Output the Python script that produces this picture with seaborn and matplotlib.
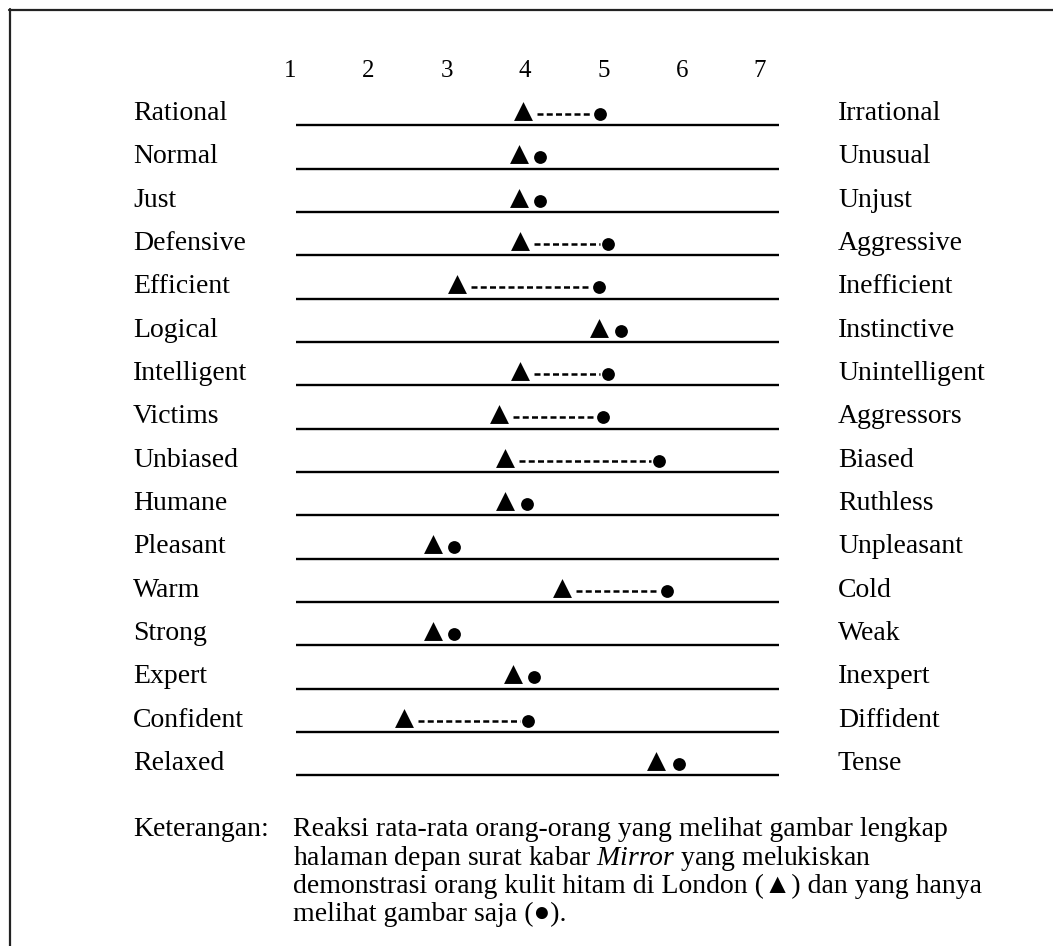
import numpy as np
import pandas as pd
import matplotlib
matplotlib.use("Agg")
import matplotlib.pyplot as plt
import seaborn as sns
from matplotlib.lines import Line2D

# ---------------- data ----------------
left_labels = ["Rational", "Normal", "Just", "Defensive", "Efficient", "Logical",
               "Intelligent", "Victims", "Unbiased", "Humane", "Pleasant", "Warm",
               "Strong", "Expert", "Confident", "Relaxed"]
right_labels = ["Irrational", "Unusual", "Unjust", "Aggressive", "Inefficient",
                "Instinctive", "Unintelligent", "Aggressors", "Biased", "Ruthless",
                "Unpleasant", "Cold", "Weak", "Inexpert", "Diffident", "Tense"]
# ▲ : saw the full front page of the Mirror
full_page = [3.97, 3.92, 3.92, 3.93, 3.13, 4.95, 3.93, 3.67, 3.75, 3.75,
             2.82, 4.47, 2.82, 3.85, 2.46, 5.67]
# ● : saw the picture only
picture_only = [4.96, 4.19, 4.19, 5.06, 4.95, 5.23, 5.06, 5.00, 5.71, 4.02,
                3.09, 5.81, 3.09, 4.11, 4.04, 5.96]
scale_ticks = [1, 2, 3, 4, 5, 6, 7]
scale_range = (1.08, 7.24)   # extent of each rating line

legend_head = "Keterangan:"
legend_lines = [
    "Reaksi rata-rata orang-orang yang melihat gambar lengkap",
    r"halaman depan surat kabar $\mathit{Mirror}$ yang melukiskan",
    "demonstrasi orang kulit hitam di London (\u25B2) dan yang hanya",
    "melihat gambar saja (\u25CF).",
]

# ---------------- layout constants (pixels) ----------------
W, H = 1053, 946
X1_PX, UNIT_PX = 290.0, 78.33      # pixel of scale value 1, pixels per unit
Y0_PX, ROW_PX = 114.0, 43.33        # marker centre of first row, row pitch
FS = 20


def xd(px):
    return 1 + (px - X1_PX) / UNIT_PX


def yd(py):
    return (py - Y0_PX) / ROW_PX


sns.set_theme(style="white")
plt.rcParams["font.family"] = ["Liberation Serif", "DejaVu Serif"]
plt.rcParams["mathtext.fontset"] = "custom"
plt.rcParams["mathtext.rm"] = "Liberation Serif"
plt.rcParams["mathtext.it"] = "Liberation Serif:italic"

fig = plt.figure(figsize=(W / 100, H / 100), dpi=100)
fig.patch.set_facecolor("white")
ax = fig.add_axes([0, 0, 1, 1])

n = len(left_labels)
rows = np.arange(n)
df = pd.DataFrame({"row": rows, "full": full_page, "pic": picture_only})

# rating lines
ax.hlines(rows + 11.5 / ROW_PX, scale_range[0], scale_range[1],
          color="black", lw=1.7)

# dashed connectors where the two means differ noticeably
for r, a, b in zip(rows, full_page, picture_only):
    if b - a > 0.5:
        ax.plot([a + 14 / UNIT_PX, b - 8 / UNIT_PX], [r, r], color="black",
                lw=1.8, linestyle=(0, (2.4, 1.3)), solid_capstyle="butt",
                dash_capstyle="butt")

# markers
sns.scatterplot(data=df, x="full", y=df["row"] - 3 / ROW_PX, marker="^",
                s=185, color="black", linewidth=0, ax=ax, zorder=3)
sns.scatterplot(data=df, x="pic", y="row", marker="o",
                s=85, color="black", linewidth=0, ax=ax, zorder=3)
ax.set_xlim(xd(0), xd(W))
ax.set_ylim(yd(H), yd(0))
ax.axis("off")

# scale numbers
for t in scale_ticks:
    ax.text(t, yd(77), str(t), ha="center", va="baseline", fontsize=18,
            color="black")

# row labels
for r, (l, rl) in enumerate(zip(left_labels, right_labels)):
    yb = yd(120 + ROW_PX * r)
    ax.text(xd(133), yb, l, ha="left", va="baseline", fontsize=FS,
            color="black")
    ax.text(xd(838), yb, rl, ha="left", va="baseline", fontsize=FS,
            color="black")

# legend / caption
legend_base = [835.7, 865.0, 893.0, 920.7]
ax.text(xd(133), yd(legend_base[0]), legend_head, ha="left", va="baseline",
        fontsize=FS, color="black")
for yb, line in zip(legend_base, legend_lines):
    ax.text(xd(293), yd(yb), line, ha="left", va="baseline", fontsize=FS,
            color="black")

# page frame (top and left edges)
fig.add_artist(Line2D([9 / W, 1], [1 - 10 / H, 1 - 10 / H],
                      transform=fig.transFigure, color="#222222", lw=1.6))
fig.add_artist(Line2D([10 / W, 10 / W], [0, 1 - 9 / H],
                      transform=fig.transFigure, color="#222222", lw=1.6))

fig.savefig("out.png", dpi=100, facecolor="white")
